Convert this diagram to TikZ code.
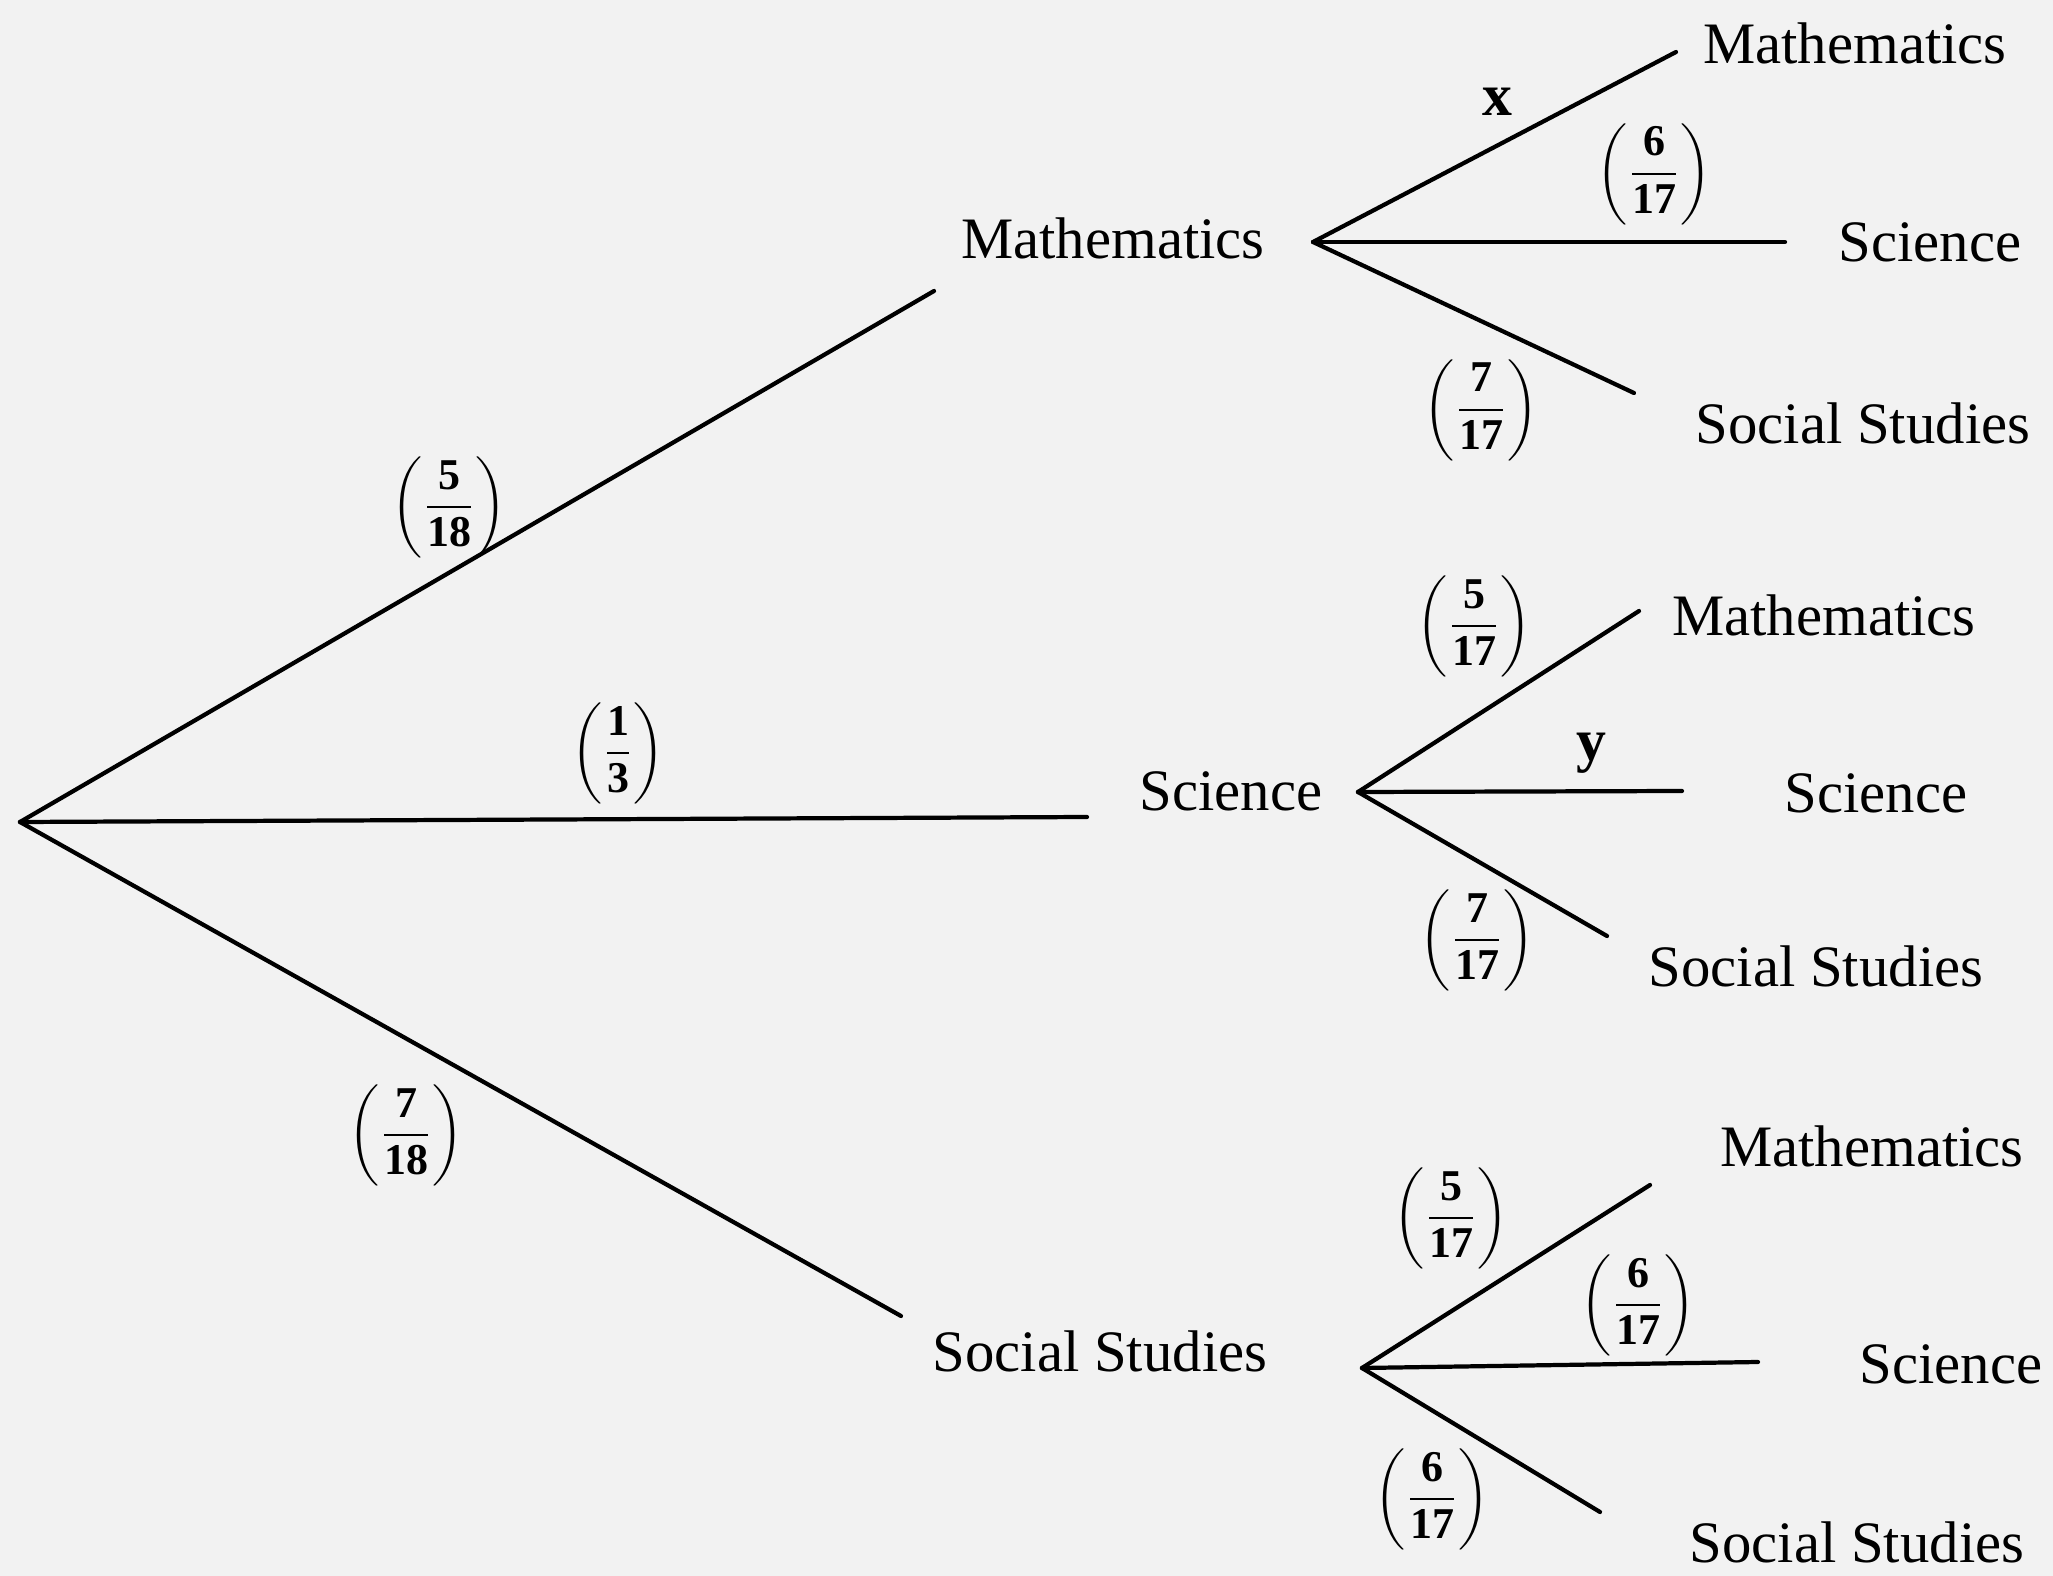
\documentclass[tikz,border=0pt]{standalone}
\usepackage{fontspec}
\setmainfont{Liberation Serif}
\usepackage{amsmath}
\begin{document}
\begin{tikzpicture}[x=0.01cm,y=-0.01cm,
  branch/.style={line width=1.2pt,line cap=round},
  lbl/.style={font=\fontsize{16.7}{20}\selectfont,inner sep=0pt},
  frac/.style={font=\fontsize{12.5}{15}\selectfont,inner sep=0pt},
  var/.style={font=\fontsize{17}{20}\selectfont\bfseries,inner sep=0pt}]
\fill[black!5] (0,0) rectangle (2053,1576);
\useasboundingbox (0,0) rectangle (2053,1576);
\newcommand{\pfrac}[2]{$\displaystyle\left(\frac{\mathbf{#1}}{\mathbf{#2}}\right)$}
% root and first-level ends
\coordinate (root) at (20,822);
\coordinate (mEnd) at (934,291);
\coordinate (sEnd) at (1087,817);
\coordinate (ssEnd) at (901,1316);
\node[lbl] (m) at (1113,238) {Mathematics};
\node[lbl] (s) at (1231,791) {Science};
\node[lbl] (ss) at (1100,1351) {Social Studies};
\draw[branch] (root) -- (mEnd);
\draw[branch] (root) -- (sEnd);
\draw[branch] (root) -- (ssEnd);
\node[frac] (f518) at (449,507) {\pfrac{5}{18}};
\node[frac] (f13) at (618,753) {\pfrac{1}{3}};
\node[frac] (f718) at (406,1135) {\pfrac{7}{18}};
% Mathematics branch
\coordinate (mB) at (1313,242);
\coordinate (mmE) at (1676,52);
\coordinate (msE) at (1785,242);
\coordinate (mssE) at (1634,393);
\node[lbl] (mm) at (1855,43) {Mathematics};
\node[lbl] (ms) at (1930,242) {Science};
\node[lbl] (mss) at (1863,423) {Social Studies};
\draw[branch] (mB) -- (mmE);
\draw[branch] (mB) -- (msE);
\draw[branch] (mB) -- (mssE);
\node[var] (x) at (1497,102) {x};
\node[frac] (mf2) at (1654,174) {\pfrac{6}{17}};
\node[frac] (mf3) at (1481,410) {\pfrac{7}{17}};
% Science branch
\coordinate (sB) at (1358,792);
\coordinate (smE) at (1639,611);
\coordinate (ssE) at (1682,791);
\coordinate (sssE) at (1607,936);
\node[lbl] (sm) at (1824,615) {Mathematics};
\node[lbl] (sS) at (1876,793) {Science};
\node[lbl] (sss) at (1816,966) {Social Studies};
\draw[branch] (sB) -- (smE);
\draw[branch] (sB) -- (ssE);
\draw[branch] (sB) -- (sssE);
\node[frac] (sf1) at (1474,626) {\pfrac{5}{17}};
\node[var] (y) at (1591,753) {y};
\node[frac] (sf3) at (1477,940) {\pfrac{7}{17}};
% Social Studies branch
\coordinate (ssB) at (1362,1368);
\coordinate (ssmE) at (1650,1185);
\coordinate (sssE2) at (1758,1362);
\coordinate (ssssE) at (1600,1512);
\node[lbl] (ssm) at (1872,1146) {Mathematics};
\node[lbl] (ssS) at (1951,1364) {Science};
\node[lbl] (ssss) at (1857,1542) {Social Studies};
\draw[branch] (ssB) -- (ssmE);
\draw[branch] (ssB) -- (sssE2);
\draw[branch] (ssB) -- (ssssE);
\node[frac] (ssf1) at (1451,1218) {\pfrac{5}{17}};
\node[frac] (ssf2) at (1638,1305) {\pfrac{6}{17}};
\node[frac] (ssf3) at (1432,1499) {\pfrac{6}{17}};
\end{tikzpicture}
\end{document}
